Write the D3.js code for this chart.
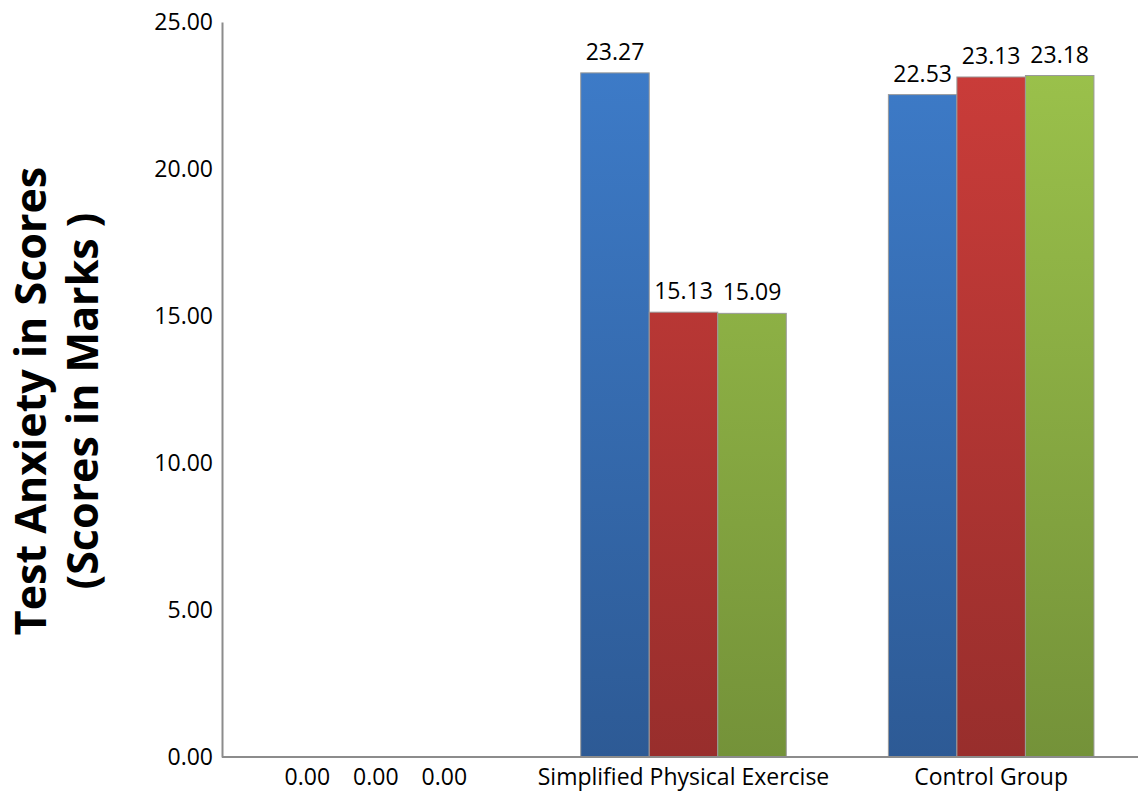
<!DOCTYPE html>
<html>
<head>
<meta charset="utf-8">
<script src="https://cdn.jsdelivr.net/npm/d3@7/dist/d3.min.js"></script>
<style>
  html, body { margin: 0; padding: 0; background: #fff; }
  svg { display: block; }
  text { font-family: "Open Sans", "Noto Sans", sans-serif; fill: #000; }
</style>
</head>
<body>
<svg id="chart" width="1138" height="791"></svg>
<script>
// Group names along the x axis
const categories = ["", "Simplified Physical Exercise", "Control Group"];
// Measurement series within each group
const seriesNames = ["Pre-test", "Post-test 1", "Post-test 2"];
// Mean scores per series, one entry per group
const preTest   = [0.00, 23.27, 22.53];
const postTest1 = [0.00, 15.13, 23.13];
const postTest2 = [0.00, 15.09, 23.18];
const yTicks = [0, 5, 10, 15, 20, 25];

const seriesValues = [preTest, postTest1, postTest2];
const palette = [
  { top: "#3e7dcb", bottom: "#2d5a95" },
  { top: "#cd3d3a", bottom: "#982e2c" },
  { top: "#9dc44c", bottom: "#749239" }
];

const svg = d3.select("#chart");
const margin = { left: 222, top: 22, bottom: 757, right: 1145 };
const labelSize = 23;

const y = d3.scaleLinear().domain([0, 25]).range([margin.bottom, margin.top]);
const x0 = d3.scaleBand().domain(categories.map((c, i) => i)).range([margin.left, margin.right]).padding(0);
const x1 = d3.scaleBand().domain(seriesNames).range([0, x0.bandwidth()]).paddingInner(0).paddingOuter(0.745);

// Vertical gradients for the bars
const defs = svg.append("defs");
palette.forEach((p, i) => {
  const g = defs.append("linearGradient").attr("id", "grad" + i)
    .attr("gradientUnits", "userSpaceOnUse")
    .attr("x1", 0).attr("x2", 0)
    .attr("y1", margin.top).attr("y2", margin.bottom);
  g.append("stop").attr("offset", "0%").attr("stop-color", p.top);
  g.append("stop").attr("offset", "100%").attr("stop-color", p.bottom);
});

// Y axis
const yAxis = svg.append("g").attr("transform", `translate(${margin.left},0)`)
  .call(d3.axisLeft(y).tickValues(yTicks).tickFormat(d3.format(".2f")).tickSize(0).tickPadding(9));
yAxis.select(".domain").attr("stroke", "#8c8c8c").attr("stroke-width", 2);
yAxis.selectAll("text").attr("font-size", labelSize).attr("fill", "#000");

// Bars
const rows = [];
categories.forEach((c, ci) => {
  seriesNames.forEach((s, si) => {
    rows.push({ ci, s, si, v: seriesValues[si][ci] });
  });
});

svg.append("g").selectAll("rect").data(rows.filter(d => d.v > 0)).join("rect")
  .attr("x", d => x0(d.ci) + x1(d.s))
  .attr("y", d => y(d.v))
  .attr("width", x1.bandwidth())
  .attr("height", d => y(0) - y(d.v))
  .attr("fill", d => `url(#grad${d.si})`)
  .attr("stroke", "#9a9a9a")
  .attr("stroke-width", 1);

// X axis line
svg.append("line")
  .attr("x1", margin.left).attr("x2", 1138)
  .attr("y1", y(0)).attr("y2", y(0))
  .attr("stroke", "#8c8c8c").attr("stroke-width", 2);

// Value labels (zero values sit on the category label row)
svg.append("g").selectAll("text").data(rows).join("text")
  .attr("x", d => x0(d.ci) + x1(d.s) + x1.bandwidth() / 2)
  .attr("y", d => d.v > 0 ? y(d.v) - 13 : 785)
  .attr("text-anchor", "middle")
  .attr("font-size", labelSize)
  .text(d => d3.format(".2f")(d.v));

// Category labels
svg.append("g").selectAll("text").data(categories).join("text")
  .attr("x", (d, i) => x0(i) + x0.bandwidth() / 2)
  .attr("y", 785)
  .attr("text-anchor", "middle")
  .attr("font-size", labelSize)
  .text(d => d);

// Y axis title
const title = svg.append("text")
  .attr("transform", "translate(46,401) rotate(-90)")
  .attr("text-anchor", "middle")
  .attr("font-size", 43)
  .attr("font-weight", "bold");
title.append("tspan").attr("x", 0).attr("dy", 0).text("Test Anxiety in Scores");
title.append("tspan").attr("x", 0).attr("dy", 52).text("(Scores in Marks )");
</script>
</body>
</html>
